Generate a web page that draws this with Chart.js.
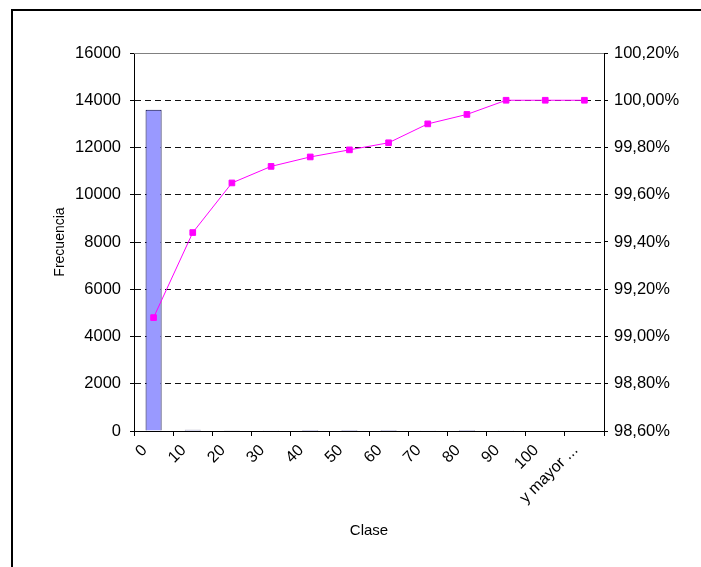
<!DOCTYPE html>
<html>
<head>
<meta charset="utf-8">
<script src="https://cdn.jsdelivr.net/npm/chart.js@4.4.0/dist/chart.umd.min.js"></script>
<style>
    body { margin: 0; background: #fff; }
    .marco { position: absolute; left: 11px; top: 9px; width: 700px; height: 570px; border-left: 2px solid #000; border-top: 2px solid #000; }
    #histograma { position: absolute; left: 0; top: 0; }
</style>
</head>
<body>
<div class="marco"></div>
<canvas id="histograma" width="701" height="567"></canvas>
<script>
// datos del histograma
const clases = ['0', '10', '20', '30', '40', '50', '60', '70', '80', '90', '100', 'y mayor ...'];
const frecuencia = [13600, 49, 29, 10, 5, 4, 4, 10, 5, 8, 0, 0];
const acumulado = [99.08, 99.44, 99.65, 99.72, 99.76, 99.79, 99.82, 99.90, 99.94, 100.00, 100.00, 100.00];

const fuente = "'Liberation Sans', Arial, sans-serif";

// linea superior gris del area de trazado
const bordeSuperior = {
    id: 'bordeSuperior',
    afterDatasetsDraw(chart) {
        const a = chart.chartArea;
        const c = chart.ctx;
        c.save();
        c.strokeStyle = '#808080';
        c.lineWidth = 1;
        c.beginPath();
        c.moveTo(a.left, a.top + 0.5);
        c.lineTo(a.right, a.top + 0.5);
        c.stroke();
        c.restore();
    }
};

var ctx = document.getElementById('histograma').getContext('2d');

var histograma = new Chart(ctx, {
    type: 'bar',
    data: {
        labels: clases,
        datasets: [
            {
                type: 'line',
                label: '% acumulado',
                data: acumulado,
                yAxisID: 'y1',
                borderColor: '#FF00FF',
                backgroundColor: '#FF00FF',
                borderWidth: 1,
                pointStyle: 'rect',
                pointRadius: 4,
                tension: 0,
                order: 0
            },
            {
                label: 'Frecuencia',
                data: frecuencia,
                yAxisID: 'y',
                backgroundColor: '#9999FF',
                borderColor: '#000040',
                borderWidth: 1,
                categoryPercentage: 1,
                barPercentage: 0.41,
                order: 1
            }
        ]
    },
    options: {
        responsive: false,
        animation: false,
        layout: { padding: { top: 53, left: 0, right: 0, bottom: 0 } },
        plugins: {
            legend: { display: false },
            tooltip: { enabled: false }
        },
        scales: {
            x: {
                offset: true,
                grid: { offset: true, drawOnChartArea: false, tickLength: 5, color: '#000' },
                border: { color: '#000', width: 1 },
                ticks: {
                    autoSkip: false, minRotation: 45, maxRotation: 45, padding: 5, labelOffset: -9,
                    color: '#000', font: { family: fuente, size: 16 }
                },
                title: {
                    display: true, text: 'Clase', color: '#000',
                    font: { family: fuente, size: 15 }, padding: { top: 0, bottom: 27 }
                },
                afterFit: function (scale) { scale.height = 136; }
            },
            y: {
                position: 'left',
                min: 0, max: 16000,
                ticks: {
                    stepSize: 2000, padding: 9, color: '#000', font: { family: fuente, size: 16.5 },
                    callback: function (v) { return String(v); }
                },
                grid: {
                    color: function (c) { return (c.tick.value === 0 || c.tick.value === 16000) ? 'rgba(0,0,0,0)' : '#111'; },
                    tickColor: '#000', tickLength: 4, lineWidth: 1
                },
                border: { color: '#000', width: 1, dash: [6, 4] },
                title: {
                    display: true, text: 'Frecuencia', color: '#000',
                    font: { family: fuente, size: 14 }, padding: { top: 52, bottom: 0 }
                },
                afterFit: function (scale) { scale.width = 134; }
            },
            y1: {
                position: 'right',
                min: 98.6, max: 100.2,
                ticks: {
                    count: 9, padding: 6, color: '#000', font: { family: fuente, size: 16.5 },
                    callback: function (v) { return v.toFixed(2).replace('.', ',') + '%'; }
                },
                grid: { drawOnChartArea: false, tickColor: '#000', tickLength: 4 },
                border: { color: '#000', width: 1 },
                afterFit: function (scale) { scale.width = 97; }
            }
        }
    },
    plugins: [bordeSuperior]
});
</script>
</body>
</html>
